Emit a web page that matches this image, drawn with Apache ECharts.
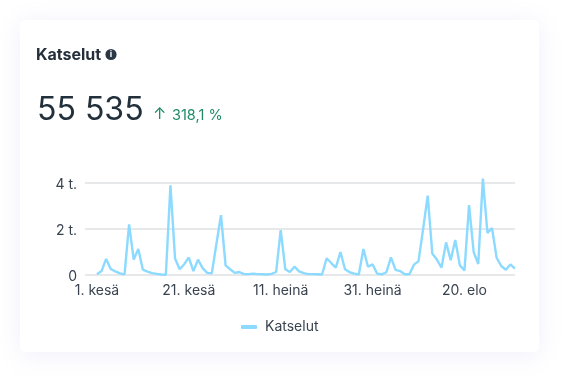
<!DOCTYPE html>
<html><head><meta charset="utf-8">
<style>html,body{margin:0;padding:0;background:#fff}#c{width:579px;height:392px}</style>
<script src="https://cdn.jsdelivr.net/npm/echarts@6/dist/echarts.min.js"></script>
</head><body><div id="c"></div>
<script>
const seriesName = 'Katselut';
const total = '55 535';
const change = '318,1 %';
const tickIndex = [0, 20, 40, 60, 80];
const tickLabels = ['1. kesä', '21. kesä', '11. heinä', '31. heinä', '20. elo'];
const views = [
 30,170,700,260,160,70,30,2200,670,1130,230,150,80,50,20,10,3900,720,250,470,760,170,670,300,90,70,1350,2600,420,250,
 90,130,40,40,60,40,30,20,50,130,1950,250,130,360,160,80,40,40,30,20,730,520,320,1000,250,120,60,20,1130,360,
 460,60,30,120,770,220,170,30,30,450,600,2000,3450,930,670,320,1420,640,1520,420,200,3040,1000,480,4190,1830,2040,750,390,230,460,280
];
const chart = echarts.init(document.getElementById('c'));
const font = 'Inter';
chart.setOption({
  animation: false,
  textStyle: {fontFamily: font},
  graphic: [
    {type:'rect', z:-10, shape:{x:20,y:20,width:519,height:332,r:5},
     style:{fill:'#fff', shadowBlur:24, shadowColor:'rgba(150,140,230,0.14)', shadowOffsetY:3}},
    {type:'text', left:36, top:47, style:{text:'Katselut', font:'700 16px Inter', fill:'#252f3b'}},
    {type:'circle', shape:{cx:111,cy:54.5,r:5.6}, style:{fill:'#2a3845'}},
    {type:'text', x:111, y:54.5, style:{text:'i', font:'700 9px Inter', fill:'#fff', align:'center', verticalAlign:'middle'}},
    {type:'text', left:37, top:94, style:{text:total, font:'400 32px Inter', fill:'#22303c'}},
    {type:'text', left:153, top:106, style:{text:'↑', font:'400 16px Inter', fill:'#1f8a66'}},
    {type:'text', left:172, top:108, style:{text:change, font:'400 14.5px Inter', fill:'#1f8a66'}}
  ],
  grid: {left:85, right:64, top:173.8, bottom:117, containLabel:false},
  legend: {show:true, bottom:53, left:236, icon:'roundRect', itemWidth:16, itemHeight:4, itemGap:8,
    textStyle:{color:'#39434f', fontSize:14, fontFamily:font, padding:[0,0,0,3]}, data:[seriesName]},
  xAxis: {type:'value', min:-2.6, max:91, splitLine:{show:false}, axisLine:{show:false}, axisTick:{show:false},
    axisLabel:{customValues:tickIndex, color:'#39434f', fontSize:14, margin:9, showMinLabel:true, showMaxLabel:true, hideOverlap:false,
      formatter:v=>tickLabels[tickIndex.indexOf(v)] ?? ''}},
  yAxis: {type:'value', min:0, max:4400, interval:2000,
    axisLine:{show:false}, axisTick:{show:false},
    splitLine:{showMaxLine:false, lineStyle:{color:'#e6e8ea', width:2}},
    axisLabel:{color:'#39434f', fontSize:14, margin:8, verticalAlign:'top', lineHeight:4, showMaxLabel:false, formatter:v=>v===0?'0':(v===4400?'':(v/1000)+' t.')}},
  series:[{name:seriesName, type:'line', showSymbol:false, symbol:'none', smooth:false,
    lineStyle:{color:'#8cdaff', width:2.4}, itemStyle:{color:'#8cdaff'},
    data: views.map((v,i)=>[i,v])}]
});
</script></body></html>
